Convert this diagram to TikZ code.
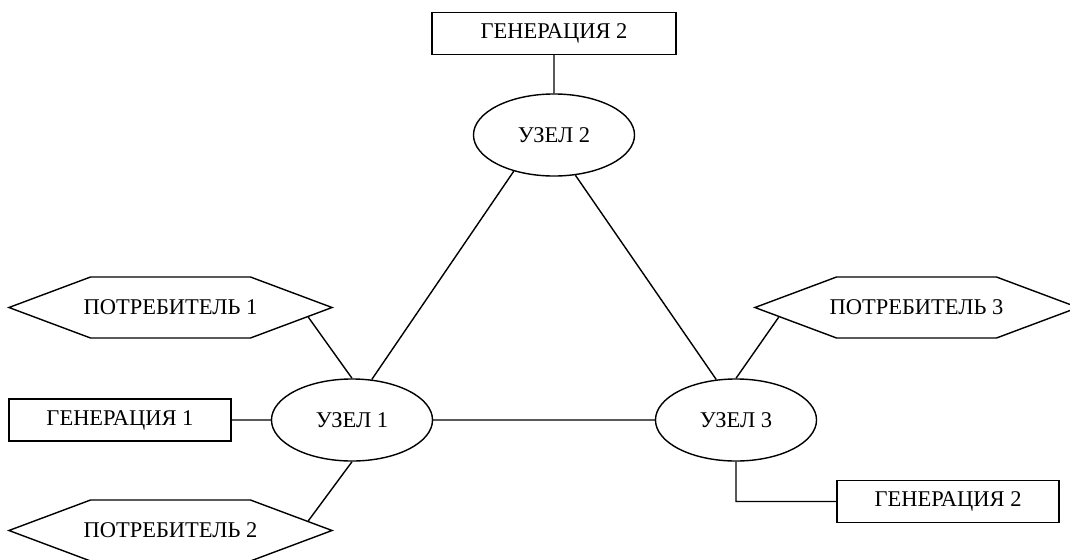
\documentclass[tikz,border=0pt]{standalone}
\usepackage{fontspec}
\setmainfont{Liberation Serif}
\usetikzlibrary{shapes.geometric,shapes.symbols}

\begin{document}
\begin{tikzpicture}[x=0.025cm, y=-0.025cm, line width=1pt,
  font=\fontsize{16}{19}\selectfont]
\tikzset{uzel/.style={ellipse, draw, minimum width=4.025cm, minimum height=2.05cm, inner sep=0pt},
gen/.style={rectangle, draw, minimum width=5.55cm, minimum height=1.04cm, inner sep=0pt},
potr/.style={signal, signal to=west and east, signal pointer angle=41,
  draw, minimum width=8.075cm, minimum height=1.525cm, inner sep=0pt,
  label={center:#1}},
}
\useasboundingbox (0,0) rectangle (1070,559);

\node[gen, minimum width=6.1cm] (gen2) at (554,33.5) {ГЕНЕРАЦИЯ 2};
\node[uzel] (uzel2) at (554,135) {УЗЕЛ 2};
\node[uzel] (uzel1) at (352,420) {УЗЕЛ 1};
\node[uzel] (uzel3) at (736,420) {УЗЕЛ 3};
\node[gen] (gen1) at (120,420) {ГЕНЕРАЦИЯ 1};
\node[gen] (gen3) at (948,501.5) {ГЕНЕРАЦИЯ 2};
\node[potr=ПОТРЕБИТЕЛЬ 1] (potr1) at (170.5,307.5) {};
\node[potr=ПОТРЕБИТЕЛЬ 2] (potr2) at (170.5,530.5) {};
\node[potr=ПОТРЕБИТЕЛЬ 3] (potr3) at (916.5,307.5) {};

\draw (gen2) -- (uzel2)
(uzel1.64) -- (uzel2.222)
(uzel2.298) -- (uzel3.116)
(uzel1) -- (uzel3)
(gen1) -- (uzel1)
(potr1.-4) -- (uzel1.north)
(potr2.4) -- (uzel1.south)
(potr3.184) -- (uzel3.north)
(uzel3.south) |- (gen3.west);

\end{tikzpicture}
\end{document}
